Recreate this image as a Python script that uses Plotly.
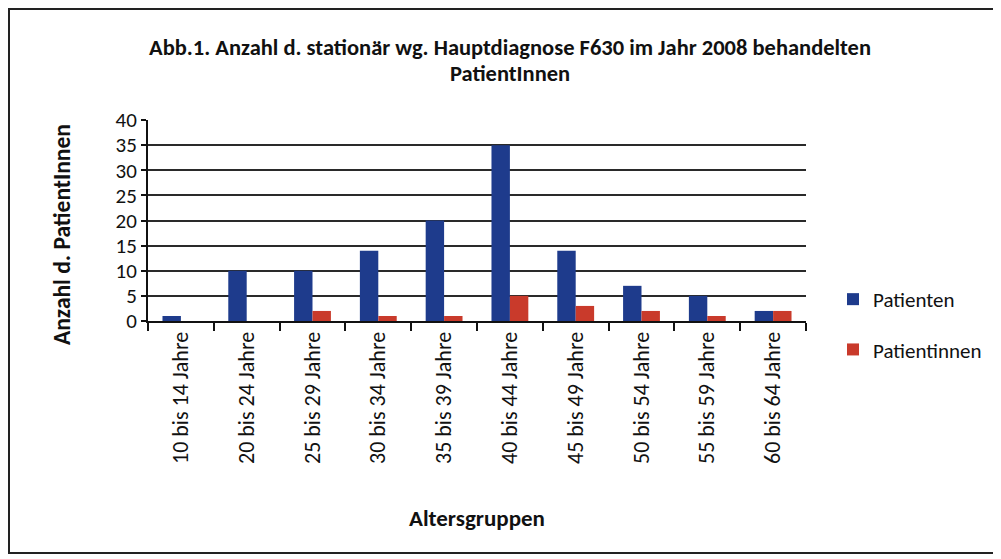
import plotly.graph_objects as go

categories = ["10 bis 14 Jahre", "20 bis 24 Jahre", "25 bis 29 Jahre", "30 bis 34 Jahre",
              "35 bis 39 Jahre", "40 bis 44 Jahre", "45 bis 49 Jahre", "50 bis 54 Jahre",
              "55 bis 59 Jahre", "60 bis 64 Jahre"]
patienten = [1, 10, 10, 14, 20, 35, 14, 7, 5, 2]
patientinnen = [0, 0, 2, 1, 1, 5, 3, 2, 1, 2]
y_ticks = [0, 5, 10, 15, 20, 25, 30, 35, 40]

FONT = "Carlito, Calibri, 'Open Sans', sans-serif"

fig = go.Figure()
fig.add_trace(go.Bar(x=categories, y=patienten, name="Patienten", legendgroup="a",
                     marker=dict(color="#1e3b8c", line=dict(width=0))))
fig.add_trace(go.Bar(x=categories, y=patientinnen, name="Patientinnen", legendgroup="b",
                     marker=dict(color="#c93a2b", line=dict(width=0))))

# reference-pixel layout (page has an 8px body margin)
OFF = 8
L, R, T, B = 148, 806, 120, 321
W, H = 1001 - OFF, 559 - OFF
pw, ph = R - L, B - T

def px(x):
    return (x - L) / pw

def py(y):
    return (B - y) / ph

fig.update_layout(
    width=W, height=H,
    margin=dict(l=L - OFF, r=W - (R - OFF), t=T - OFF, b=H - (B - OFF), pad=0),
    paper_bgcolor="white", plot_bgcolor="white",
    barmode="group", bargap=0.44, bargroupgap=0.0,
    font=dict(family=FONT, color="#111"),
    showlegend=True,
    legend=dict(x=px(833), y=py(279), xanchor="left", yanchor="top",
                font=dict(size=21, family=FONT, color="#111"),
                tracegroupgap=20, bgcolor="rgba(0,0,0,0)"),
    xaxis=dict(type="category", showgrid=False, showline=True, linecolor="#111", linewidth=2,
               ticks="outside", tickson="boundaries", ticklen=8, tickcolor="#111", tickwidth=2,
               tickangle=-90, tickfont=dict(size=22, family=FONT, color="#111"),
               zeroline=False),
    yaxis=dict(range=[0, 40], tickvals=y_ticks, showgrid=True, gridcolor="#2a2a2a", gridwidth=2,
               showline=True, linecolor="#111", linewidth=2, ticks="outside", ticklen=5,
               tickcolor="#111", tickwidth=2, tickfont=dict(size=21, family=FONT, color="#111"),
               zeroline=False),
    annotations=[
        dict(text="<b>Abb.1. Anzahl d. stationär wg. Hauptdiagnose F630 im Jahr 2008 behandelten</b>",
             x=px(510), y=py(47), xref="paper", yref="paper", showarrow=False,
             xanchor="center", yanchor="middle", font=dict(size=22.5, family=FONT, color="#111")),
        dict(text="<b>PatientInnen</b>",
             x=px(510), y=py(73), xref="paper", yref="paper", showarrow=False,
             xanchor="center", yanchor="middle", font=dict(size=22.5, family=FONT, color="#111")),
        dict(text="<b>Anzahl d. PatientInnen</b>", x=px(62), y=py(235), xref="paper", yref="paper",
             showarrow=False, textangle=-90, xanchor="center", yanchor="middle",
             font=dict(size=23.5, family=FONT, color="#111")),
        dict(text="<b>Altersgruppen</b>", x=px(477), y=py(518), xref="paper", yref="paper",
             showarrow=False, xanchor="center", yanchor="middle",
             font=dict(size=23, family=FONT, color="#111")),
    ],
    shapes=[
        dict(type="rect", xref="paper", yref="paper", x0=px(9), x1=px(1000), y0=py(553), y1=py(9),
             line=dict(color="#222", width=2), layer="below"),
    ],
)

fig.write_html("out.html")
